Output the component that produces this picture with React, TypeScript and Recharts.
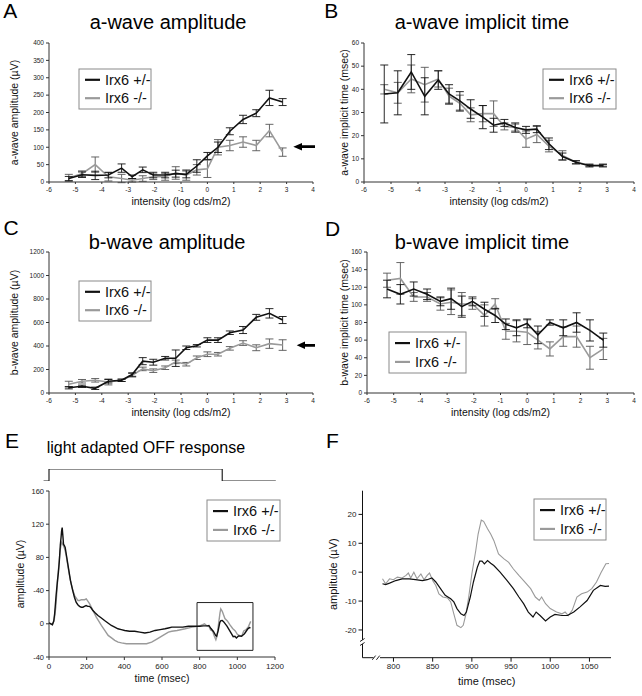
import React from "react";
import { LineChart, Line, XAxis, YAxis, ErrorBar, ReferenceArea } from "recharts";

const FONT = '"Liberation Sans", Arial, Helvetica, sans-serif';
const HET = "#111";
const KO = "#9a9a9a";
const AXIS = "#333";

// stimulus intensities shared by panels A-D (log cd·s/m2)
const intensity = [-5.25, -4.75, -4.25, -3.75, -3.25, -2.85, -2.45, -2.05, -1.6, -1.2, -0.8, -0.4, 0, 0.4, 0.85, 1.35, 1.85, 2.35, 2.85];
const intensityTicks = [-6, -5, -4, -3, -2, -1, 0, 1, 2, 3, 4];

// A: a-wave amplitude (uV)
const aAmpHet = [10, 21, 19, 20, 40, 15, 35, 20, 20, 24, 22, 46, 75, 100, 146, 180, 198, 242, 230];
const aAmpHetErr = [6, 8, 12, 8, 12, 5, 8, 8, 8, 10, 10, 18, 10, 15, 10, 12, 10, 22, 10];
const aAmpKo = [12, 24, 50, 15, 10, 5, 10, 15, 15, 26, 20, 35, 38, 100, 105, 115, 105, 148, 86];
const aAmpKoErr = [10, 8, 22, 12, 12, 5, 8, 8, 10, 18, 15, 15, 25, 22, 15, 15, 15, 18, 12];
const aAmpTicks = [0, 50, 100, 150, 200, 250, 300, 350, 400];

// B: a-wave implicit time (msec)
const aTimeHet = [38, 38.5, 47.5, 37, 44, 38, 35, 31.5, 28, 24.5, 25.5, 23.5, 22.5, 22.8, 16.5, 11, 8.5, 7, 7];
const aTimeHetErr = [12.5, 9.5, 7.5, 8, 4, 4, 4, 4, 5, 3, 1.5, 2, 1.5, 1.5, 2.5, 1.5, 0.7, 0.5, 0.5];
const aTimeKo = [40, 38.5, 44.5, 42, 44.5, 37, 34, 29, 29.5, 29.5, 24, 23.5, 18.5, 20.5, 15.5, 11.5, 8.5, 7.3, 7.3];
const aTimeKoErr = [2, 4.5, 6, 7.5, 3.5, 3.5, 3.5, 3, 3.5, 5.5, 1.5, 1.5, 3.5, 3.5, 2.5, 2, 0.6, 0.5, 0.5];
const aTimeTicks = [0, 10, 20, 30, 40, 50, 60];

// C: b-wave amplitude (uV)
const bAmpHet = [45, 57, 40, 100, 108, 157, 271, 262, 296, 296, 385, 402, 450, 450, 513, 536, 644, 678, 621];
const bAmpHetErr = [10, 10, 10, 15, 10, 15, 30, 25, 15, 70, 15, 10, 20, 20, 15, 30, 25, 40, 30];
const bAmpKo = [75, 100, 108, 94, 108, 151, 205, 190, 215, 265, 245, 300, 330, 330, 380, 425, 385, 420, 408];
const bAmpKoErr = [25, 15, 15, 25, 10, 15, 15, 15, 15, 15, 15, 15, 20, 15, 15, 20, 25, 40, 45];
const bAmpTicks = [0, 200, 400, 600, 800, 1000, 1200];

// D: b-wave implicit time (msec)
const bTimeHet = [118, 112, 118, 112, 104, 107, 98, 104, 95, 88, 78, 74, 79, 66, 80, 74, 80, 71, 60];
const bTimeHetErr = [10, 11, 8, 6, 5, 12, 12, 5, 8, 8, 6, 9, 5, 10, 3, 9, 11, 12, 8];
const bTimeKo = [128, 130, 109, 109, 101, 103, 101, 101, 88, 101, 70, 70, 69, 60, 50, 64, 64, 40, 50];
const bTimeKoErr = [8, 18, 5, 5, 7, 14, 13, 6, 12, 6, 9, 12, 14, 10, 8, 11, 12, 13, 12];
const bTimeTicks = [0, 20, 40, 60, 80, 100, 120, 140, 160];

// E: light adapted OFF response traces (msec, uV)
const eHetT = [0, 10, 18, 25, 30, 38, 45, 50, 55, 60, 64, 67, 70, 74, 77, 82, 86, 93, 100, 107, 114, 120, 126, 135, 144, 153, 162, 171, 180, 188, 197, 206, 215, 224, 233, 246, 260, 278, 295, 313, 331, 349, 366, 384, 402, 428, 455, 482, 509, 536, 563, 590, 616, 634, 652, 680, 710, 740, 770, 800, 820, 840, 849, 860, 873, 886, 890, 898, 907, 913, 920, 928, 945, 960, 978, 987, 995, 1006, 1022, 1038, 1055, 1064, 1070];
const eHetV = [1, 0, -1, 3, 12, 35, 52, 62, 76, 95, 104, 112, 116, 105, 96, 94, 92, 82, 72, 62, 52, 46, 40, 32, 26, 23, 21, 20, 20, 21, 22, 21, 21, 19, 16, 13, 10, 7, 4, 1, -2, -4, -6, -7, -8, -9, -9, -10, -11, -10, -8, -7, -6, -5, -4, -4, -4, -3, -3, -3, -2.5, -2.5, -2, -5.7, -9.2, -14.4, -15, -8.6, 1.7, 3.8, 4, 2.3, -2.9, -8.6, -15.5, -15, -17, -14.6, -15, -12, -6.3, -4.6, -4.9];
const eKoT = [0, 10, 18, 28, 36, 42, 48, 54, 59, 64, 68, 72, 77, 82, 86, 93, 100, 109, 118, 127, 136, 145, 154, 162, 171, 180, 189, 198, 207, 216, 225, 238, 251, 265, 278, 296, 314, 332, 349, 367, 385, 411, 438, 465, 492, 518, 545, 568, 590, 612, 634, 652, 680, 723, 760, 800, 816, 826, 839, 849, 858, 869, 877, 886, 892, 900, 908, 912, 920, 934, 947, 960, 975, 989, 1000, 1015, 1023, 1034, 1047, 1059, 1071];
const eKoV = [1, 0, -1, 5, 20, 40, 60, 75, 88, 95, 98, 96, 94, 91, 88, 80, 70, 58, 48, 40, 34, 31, 28, 28, 29, 29, 29, 30, 27, 24, 20, 14, 8, 3, -2, -8, -14, -17, -20, -22, -23, -24, -24, -24, -24, -24, -22, -19, -16, -13, -10, -9, -8, -6, -4, -2.6, -1.1, 0, -2.6, -2.9, -7.5, -8.9, -14.4, -19.2, -15, -0.6, 13.2, 18, 15, 6.3, 3.4, -1.1, -5.7, -8.6, -12.6, -14.4, -15, -8.6, -6.9, -3.4, 2.9];
const eXTicks = [0, 200, 400, 600, 800, 1000, 1200];
const eYTicks = [-40, 0, 40, 80, 120, 160];
const eYTickLabels = ["-40", "0", "-40", "80", "120", "160"];
// light stimulus step drawn above panel E
const stimT = [-30, 0, 0, 920, 920, 1205];
const stimV = [0, 0, 1, 1, 0, 0];

// F: expanded OFF response (msec, uV)
const fHetT = [786, 790, 795, 803, 811, 820, 828, 837, 843, 849, 854, 860, 866, 873, 877, 881, 886, 890, 893, 898, 902, 907, 910, 913, 916, 920, 924, 928, 936, 945, 953, 960, 966, 972, 978, 982, 987, 994, 1000, 1006, 1015, 1022, 1030, 1038, 1047, 1055, 1064, 1070, 1075];
const fHetV = [-4, -4.3, -3.8, -2.9, -2.3, -2.3, -2.6, -2.9, -2.6, -2, -3.4, -5.7, -8, -9.2, -10.3, -12.6, -14.4, -15, -13.8, -8.6, -3.4, 1.7, 3.8, 3.8, 2.9, 4, 3.1, 2.3, 0, -2.9, -5.7, -8.6, -10.9, -13.8, -15.5, -13.8, -15, -16.9, -15.5, -14.6, -15, -15, -13.8, -12, -9.8, -6.3, -4.6, -4.9, -4.8];
const fKoT = [786, 790, 795, 800, 805, 811, 816, 819, 822, 826, 830, 835, 839, 843, 846, 850, 854, 858, 863, 869, 873, 877, 881, 886, 889, 892, 896, 900, 905, 908, 912, 915, 920, 924, 928, 934, 941, 947, 953, 960, 966, 975, 981, 986, 989, 994, 1000, 1008, 1015, 1019, 1023, 1028, 1034, 1040, 1047, 1053, 1059, 1065, 1071, 1075];
const fKoV = [-2.3, -4, -2.3, -2.6, -1.7, -2, -1.1, -0.3, -2, 0, -2.3, -0.6, -2.6, -1.1, -0.3, -2.9, -4.6, -7.5, -8.6, -8.9, -10.3, -14.4, -18.4, -19.2, -18.4, -15, -8.6, -0.6, 7.5, 13.2, 18, 17.6, 15, 13.2, 11, 6.3, 4.6, 3.4, 1.1, -1.1, -2.9, -5.7, -8.6, -9.8, -8.6, -10.9, -12.6, -13.8, -14.4, -13.8, -15, -13.2, -8.6, -7.5, -6.9, -5.7, -3.4, 0, 2.9, 3];
const fXTicks = [800, 850, 900, 950, 1000, 1050];
const fYTicks = [-20, -10, 0, 10, 20];

const seriesNames = ["Irx6 +/-", "Irx6 -/-"];

const toRows = (ts: number[], vs: number[]) => ts.map((t, i) => ({ t, v: vs[i] }));
const intensityRows = (het: number[], hetErr: number[], ko: number[], koErr: number[]) =>
  intensity.map((x, i) => ({ x, het: het[i], hetErr: hetErr[i], ko: ko[i], koErr: koErr[i] }));

const smallTick = { fontSize: 6.5, fill: "#222" };

function IntensityPanel({
  left, top, plotLeft, plotTop, plotBottom, yDomain, yTicks, yLabel, yLabelX, rows,
}: {
  left: number; top: number; plotLeft: number; plotTop: number; plotBottom: number;
  yDomain: [number, number]; yTicks: number[]; yLabel: string; yLabelX: number; rows: any[];
}) {
  const W = 321, H = 215, yw = 40, xh = 28;
  return (
    <div style={{ position: "absolute", left, top }}>
      <LineChart
        width={W}
        height={H}
        data={rows}
        margin={{ top: plotTop, right: 8, bottom: H - plotBottom - xh, left: plotLeft - yw }}
      >
        <XAxis
          type="number" dataKey="x" domain={[-6, 4]} ticks={intensityTicks} interval={0}
          allowDataOverflow height={xh} stroke={AXIS} tickSize={2} tickMargin={3} tick={smallTick}
          label={{ value: "intensity (log cds/m2)", position: "insideBottom", offset: 5, fontSize: 10.5, fill: "#111" }}
        />
        <YAxis
          type="number" domain={yDomain} ticks={yTicks} interval={0} allowDataOverflow width={yw}
          stroke={AXIS} tickSize={3} tickMargin={2} tick={smallTick}
          label={{
            value: yLabel, angle: -90, position: "insideLeft", offset: yLabelX - (plotLeft - yw),
            style: { textAnchor: "middle" }, fontSize: 10.5, fill: "#111",
          }}
        />
        <Line type="linear" dataKey="ko" name={seriesNames[1]} stroke={KO} strokeWidth={1.6} dot={false} isAnimationActive={false}>
          <ErrorBar dataKey="koErr" width={4} stroke="#555" strokeWidth={0.9} direction="y" isAnimationActive={false} />
        </Line>
        <Line type="linear" dataKey="het" name={seriesNames[0]} stroke={HET} strokeWidth={1.6} dot={false} isAnimationActive={false}>
          <ErrorBar dataKey="hetErr" width={4} stroke="#111" strokeWidth={0.9} direction="y" isAnimationActive={false} />
        </Line>
      </LineChart>
    </div>
  );
}

function LegendBox({ x, y, w, h }: { x: number; y: number; w: number; h: number }) {
  const rows = [y + h * 0.27, y + h * 0.73];
  const colors = [HET, KO];
  return (
    <g>
      <rect x={x} y={y} width={w} height={h} fill="#fff" stroke="#8a8a8a" strokeWidth={1} />
      {seriesNames.map((n, i) => (
        <g key={n}>
          <line x1={x + 6} x2={x + 21} y1={rows[i]} y2={rows[i]} stroke={colors[i]} strokeWidth={2.2} />
          <text x={x + 26} y={rows[i] + 5.2} fontSize={14.5} fill="#111">{n}</text>
        </g>
      ))}
    </g>
  );
}

function Arrow({ tip, y, headEnd, tail }: { tip: number; y: number; headEnd: number; tail: number }) {
  const pts = [
    [tip, y], [headEnd, y - 3.8], [headEnd, y - 1.4], [tail, y - 1.4],
    [tail, y + 1.4], [headEnd, y + 1.4], [headEnd, y + 3.8],
  ].map((p) => p.join(",")).join(" ");
  return <polygon points={pts} fill="#000" />;
}

export default function App() {
  return (
    <div style={{ position: "absolute", left: 0, top: 0, width: 642, height: 696, background: "#fff", fontFamily: FONT }}>
      <IntensityPanel left={0} top={0} plotLeft={49} plotTop={43} plotBottom={182} yDomain={[0, 400]} yTicks={aAmpTicks}
        yLabel="a-wave amplitude (µV)" yLabelX={14} rows={intensityRows(aAmpHet, aAmpHetErr, aAmpKo, aAmpKoErr)} />
      <IntensityPanel left={321} top={0} plotLeft={43} plotTop={43} plotBottom={182} yDomain={[0, 60]} yTicks={aTimeTicks}
        yLabel="a-wave implicit time (msec)" yLabelX={23} rows={intensityRows(aTimeHet, aTimeHetErr, aTimeKo, aTimeKoErr)} />
      <IntensityPanel left={0} top={210} plotLeft={49} plotTop={42} plotBottom={183} yDomain={[0, 1200]} yTicks={bAmpTicks}
        yLabel="b-wave amplitude (µV)" yLabelX={14} rows={intensityRows(bAmpHet, bAmpHetErr, bAmpKo, bAmpKoErr)} />
      <IntensityPanel left={321} top={210} plotLeft={46} plotTop={42} plotBottom={183} yDomain={[0, 160]} yTicks={bTimeTicks}
        yLabel="b-wave implicit time (msec)" yLabelX={23} rows={intensityRows(bTimeHet, bTimeHetErr, bTimeKo, bTimeKoErr)} />

      {/* stimulus step above E */}
      <div style={{ position: "absolute", left: 0, top: 460 }}>
        <LineChart width={321} height={30} margin={{ top: 9, right: 45.1, bottom: 9, left: 43.35 }}>
          <XAxis type="number" dataKey="t" domain={[-30, 1205]} hide allowDataOverflow />
          <YAxis type="number" domain={[0, 1]} hide allowDataOverflow />
          <Line data={toRows(stimT, stimV)} dataKey="v" type="linear" stroke="#222" strokeWidth={1.2} dot={false} isAnimationActive={false} />
        </LineChart>
      </div>

      {/* E */}
      <div style={{ position: "absolute", left: 0, top: 480 }}>
        <LineChart width={321} height={216} margin={{ top: 11, right: 46, bottom: 0, left: 9 }}>
          <XAxis
            type="number" dataKey="t" domain={[0, 1200]} ticks={eXTicks} interval={0} allowDataOverflow height={39}
            stroke={AXIS} tickSize={3} tickMargin={3} tick={{ fontSize: 8, fill: "#222" }}
            label={{ value: "time (msec)", position: "insideBottom", offset: 14, fontSize: 10.5, fill: "#111" }}
          />
          <YAxis
            type="number" domain={[-40, 160]} ticks={eYTicks} interval={0} allowDataOverflow width={40}
            stroke={AXIS} tickSize={3} tickMargin={2} tick={{ fontSize: 7.5, fill: "#222" }}
            tickFormatter={(v: number) => eYTickLabels[eYTicks.indexOf(v)]}
            label={{ value: "amplitude (µV)", angle: -90, position: "insideLeft", offset: 11, style: { textAnchor: "middle" }, fontSize: 10.5, fill: "#111" }}
          />
          <ReferenceArea x1={786} x2={1083} y1={-32} y2={25.6} fill="none" stroke="#222" strokeWidth={1} ifOverflow="visible" />
          <Line data={toRows(eKoT, eKoV)} dataKey="v" name={seriesNames[1]} type="linear" stroke={KO} strokeWidth={1.4} dot={false} isAnimationActive={false} />
          <Line data={toRows(eHetT, eHetV)} dataKey="v" name={seriesNames[0]} type="linear" stroke={HET} strokeWidth={1.4} dot={false} isAnimationActive={false} />
        </LineChart>
      </div>

      {/* F */}
      <div style={{ position: "absolute", left: 321, top: 480 }}>
        <LineChart width={321} height={216} margin={{ top: 10.7, right: 31, bottom: 0, left: 1.5 }}>
          <XAxis
            type="number" dataKey="t" domain={[760.5, 1077.5]} ticks={fXTicks} interval={0} allowDataOverflow height={38.3}
            stroke="#111" tickSize={4} tickMargin={2} tick={{ fontSize: 8, fill: "#222" }}
            label={{ value: "time (msec)", position: "insideBottom", offset: 11, fontSize: 11, fill: "#111" }}
          />
          <YAxis
            type="number" domain={[-29.6, 28.2]} ticks={fYTicks} interval={0} allowDataOverflow width={40}
            stroke="#111" tickSize={4} tickMargin={2} tick={{ fontSize: 8, fill: "#222" }}
            label={{ value: "amplitude (µV)", angle: -90, position: "insideLeft", offset: 10.5, style: { textAnchor: "middle" }, fontSize: 11, fill: "#111" }}
          />
          <Line data={toRows(fKoT, fKoV)} dataKey="v" name={seriesNames[1]} type="linear" stroke={KO} strokeWidth={1.1} dot={false} isAnimationActive={false} />
          <Line data={toRows(fHetT, fHetV)} dataKey="v" name={seriesNames[0]} type="linear" stroke={HET} strokeWidth={1.2} dot={false} isAnimationActive={false} />
        </LineChart>
      </div>

      {/* titles, panel letters, legends, arrows, axis breaks */}
      <svg width={642} height={696} style={{ position: "absolute", left: 0, top: 0, pointerEvents: "none" }} fontFamily={FONT}>
        <g fontSize={21} fill="#000">
          <text x={3.3} y={18.3}>A</text>
          <text x={324.3} y={18.3}>B</text>
          <text x={3.5} y={235}>C</text>
          <text x={325} y={235.5}>D</text>
          <text x={5} y={448.3}>E</text>
          <text x={326} y={448.3}>F</text>
        </g>
        <g fontSize={20} fill="#000" textAnchor="middle">
          <text x={168} y={29.3}>a-wave amplitude</text>
          <text x={482} y={29.3}>a-wave implicit time</text>
          <text x={167} y={249}>b-wave amplitude</text>
          <text x={482} y={249}>b-wave implicit time</text>
        </g>
        <text x={46.7} y={453.3} fontSize={16} fill="#000">light adapted OFF response</text>
        <LegendBox x={79} y={69} w={72} h={40} />
        <LegendBox x={543} y={69} w={73} h={40} />
        <LegendBox x={79} y={281} w={72} h={40} />
        <LegendBox x={389} y={332} w={77} h={41} />
        <LegendBox x={207} y={500} w={73} h={41} />
        <LegendBox x={534} y={499} w={72} h={41} />
        <Arrow tip={293.3} y={146.7} headEnd={302} tail={315} />
        <Arrow tip={296.7} y={345.3} headEnd={305} tail={315} />
        {/* axis breaks in F */}
        <rect x={358.5} y={640} width={8} height={4} fill="#fff" />
        <rect x={373.5} y={654} width={6.5} height={7} fill="#fff" />
        <g stroke="#222" strokeWidth={1} fill="none">
          <line x1={360} y1={641.5} x2={364.6} y2={638.5} />
          <line x1={360} y1={645.5} x2={364.6} y2={642.5} />
          <line x1={372.3} y1={659.8} x2={375.6} y2={655.6} />
          <line x1={376.4} y1={659.8} x2={379.7} y2={655.6} />
        </g>
      </svg>
    </div>
  );
}
